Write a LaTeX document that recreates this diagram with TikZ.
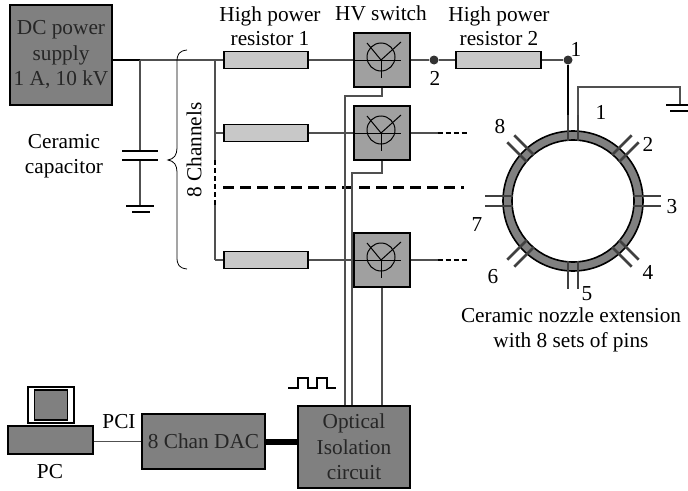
\documentclass[tikz,border=0pt]{standalone}
\usepackage{fontspec}
\setmainfont{Liberation Serif}
\usepackage{tikz}
\usetikzlibrary{calc, positioning}
\definecolor{boxgray}{HTML}{808080}
\definecolor{swgray}{HTML}{A0A0A0}
\definecolor{resgray}{HTML}{C8C8C8}
\definecolor{wiregray}{HTML}{505050}
\tikzset{
  lbl/.style={inner sep=0pt, align=center, font=\fontsize{21.3}{24.5}\selectfont},
  graybox/.style={draw=black, line width=1.4pt, fill=boxgray, inner sep=0pt, align=center, text=black!85, font=\fontsize{21.3}{25.5}\selectfont},
  resbox/.style={draw=black, line width=1.4pt, fill=resgray, minimum width=84pt, minimum height=17pt, inner sep=0pt},
  swbox/.style={draw=black, line width=1.4pt, fill=swgray, minimum width=56pt, minimum height=54pt, inner sep=0pt},
  wire/.style={draw=wiregray, line width=1.2pt},
  blackwire/.style={draw=black, line width=1.5pt},
  junction/.style={circle, fill=black!80, minimum size=9pt, inner sep=0pt},
}
\begin{document}
\begin{tikzpicture}[x=1pt, y=-1pt]
      \useasboundingbox (0,0) rectangle (688,490);
      % source and capacitor
      \node[graybox, minimum width=102pt, minimum height=100pt] (dc) at (61,55) {DC power\\supply\\1 A, 10 kV};
      \coordinate (captop) at (140,60);
      \coordinate (bustop) at (215,60);
      \coordinate (busdasha) at (215,160);
      \coordinate (busdashb) at (215,205);
      \coordinate (busend) at (215,260);
      \coordinate (platea) at (140,151);
      \coordinate (plateb) at (140,160);
      \coordinate (earth) at (140,206);
      \draw[blackwire] (dc.east |- captop) -- (captop);
      \draw[wire] (captop) -- (bustop);
      \draw[wire] (captop) -- (platea);
      \draw[wire] (plateb) -- (earth);
      \draw[black, line width=1.8pt] (122,151) -- (158,151) (122,160) -- (158,160);
      \draw[black, line width=1.6pt] (126,206) -- (154,206) (132,212) -- (150,212);
      \draw[black, line width=.8pt] (187,50) .. controls (179,51) and (177,54) .. (177,62) -- (177,148) .. controls (177,155) and (174,159) .. (168,160) .. controls (174,161) and (177,165) .. (177,172) -- (177,257) .. controls (177,265) and (179,268) .. (187,269);
      \node[lbl, rotate=90] (chan) at (194,150) {8 Channels};
      \node[lbl] (capname) at (64,156) {Ceramic\\capacitor};
      % bus
      \draw[wire] (bustop) -- (busdasha);
      \draw[black, line width=2.2pt, dash pattern=on 5pt off 3pt] (busdasha) -- (busdashb);
      \draw[wire] (busdashb) -- (busend);
      % channels
      \foreach \chan/\ypos in {a/60, b/133, c/260}{
        \node[resbox] (res\chan) at (266,\ypos) {};
        \node[swbox] (sw\chan) at (382,\ypos) {};
        \draw[wire] (bustop |- res\chan) -- (res\chan.west);
        \draw[wire] (res\chan.east) -- (sw\chan.west);
        \draw[black, line width=1pt] (381,\ypos-3) circle (14);
        \draw[black, line width=1pt] (354,\ypos) -- (401,\ypos);
        \draw[black, line width=1pt] (367,\ypos-17) -- (381,\ypos) -- (401,\ypos-18);
        \draw[black, line width=1pt] (381,\ypos) -- (381,\ypos+18);
      }
      \foreach \chan in {b, c}{
        \draw[wire] (swb.east |- sw\chan) -- ++(27,0) coordinate (stub\chan);
        \draw[black, line width=1.8pt, dash pattern=on 5pt off 3pt] (stub\chan) -- ++(30,0);
      }
      \coordinate (gapa) at (223,187);
      \coordinate (gapb) at (464,187);
      \draw[black, line width=3pt, dash pattern=on 11pt off 6pt] (gapa) -- (gapb);
      % output line
      \node[junction] (jtwo) at (434,60) {};
      \node[resbox, minimum width=85pt] (restwo) at (498.5,60) {};
      \node[junction] (jone) at (568,60) {};
      \draw[wire] (swa.east) -- (jtwo) -- (restwo.west);
      \draw[wire] (restwo.east) -- (jone);
      % ring
      \coordinate (ring) at (573,201);
      \fill[boxgray, even odd rule] (ring) circle (70) (ring) circle (61);
      \draw[black, line width=1.6pt] (ring) circle (70) (ring) circle (61);
      \foreach \ang in {0, 45, ..., 315}{
        \draw[black!75, line width=2.6pt, shift={(ring)}, rotate=\ang] (60,-5) -- (88,-5) (60,5) -- (88,5);
      }
      \coordinate (pinone) at (568,115);
      \coordinate (pintwo) at (578,115);
      \coordinate (earthtop) at (680,87);
      \draw[blackwire] (jone) -- (pinone);
      \draw[wire] (pintwo) -- (pintwo |- earthtop) -- (earthtop) -- (680,105);
      \draw[black, line width=1.6pt] (666,105) -- (688,105) (670,111) -- (688,111);
      % control side
      \node[graybox, minimum width=112pt, minimum height=82pt] (iso) at (354,447) {Optical\\Isolation\\circuit};
      \node[graybox, minimum width=123pt, minimum height=55pt] (dac) at (203.5,441.5) {8 Chan DAC};
      \node[graybox, minimum width=85pt, minimum height=28pt] (pc) at (50.5,440) {};
      \node[draw=black, line width=1.4pt, fill=white, minimum width=46pt, minimum height=36pt, inner sep=0pt] (screen) at (51,405) {};
      \node[draw=black, line width=1.4pt, fill=boxgray, minimum width=33pt, minimum height=30pt, inner sep=0pt] (glass) at (51,405) {};
      \draw[black, line width=6pt] (dac.east) -- (iso.west |- dac.east);
      \draw[wire] (pc.east |- dac) -- (dac.west);
      \coordinate (taila) at (345,96);
      \coordinate (tailb) at (352,173);
      \draw[wire] (swa.south) -- (382,96) -- (taila) -- (taila |- iso.north);
      \draw[wire] (swb.south) -- (382,173) -- (tailb) -- (tailb |- iso.north);
      \draw[wire] (swc.south) -- (swc.south |- iso.north);
      \draw[black, line width=1.2pt] (288,388) -- (298,388) -- (298,378) -- (308,378) -- (308,388) -- (317,388) -- (317,378) -- (327,378) -- (327,388) -- (336,388);
      % labels
      \node[lbl] (hpa) at (270,26) {High power\\resistor 1};
      \node[lbl] (hvs) at (381,13) {HV switch};
      \node[lbl] (hpb) at (499,26) {High power\\resistor 2};
      \node[lbl] (nodeone) at (576,49) {1};
      \node[lbl] (nodetwo) at (435,78) {2};
      \foreach \num/\xpos/\ypos in {1/601/112, 2/648/144, 3/672/207, 4/648/272, 5/587/294, 6/493/277, 7/477/225, 8/500/127}{
        \node[lbl] (pin\num) at (\xpos,\ypos) {\num};
      }
      \node[lbl] (nozzle) at (571,330) {Ceramic nozzle extension\\with 8 sets of pins};
      \node[lbl] (pci) at (119,422) {PCI};
      \node[lbl] (pcname) at (50,472) {PC};
\end{tikzpicture}
\end{document}
